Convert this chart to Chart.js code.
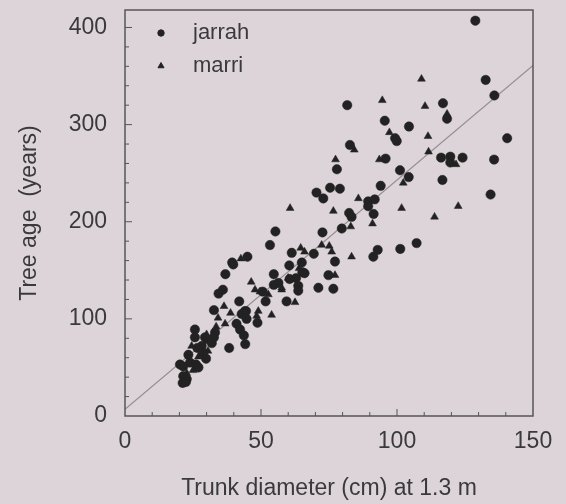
<!DOCTYPE html>
<html>
<head>
<meta charset="utf-8">
<script src="https://cdn.jsdelivr.net/npm/chart.js@4.4.1/dist/chart.umd.min.js"></script>
<style>
  html, body { margin: 0; padding: 0; background: #ddd4d9; }
  #wrap { width: 566px; height: 504px; }
</style>
</head>
<body>
<div id="wrap"><canvas id="chart" width="566" height="504"></canvas></div>
<script>
// jarrah (circles): trunk diameter (cm) and age (years)
const jarrahDiam = [128.8, 132.6, 135.8, 81.7, 116.9, 118.4, 95.5, 104.4, 99.3, 99.9, 82.7, 140.5, 95.8, 116.2, 119.6, 119.6, 124.1, 135.7, 101.1, 104.3,
  116.7, 94, 79, 134.4, 89.4, 89.4, 91.8, 82.4, 83.3, 91.4, 79.7, 92.9, 91.3, 101.2, 107.2, 72.9, 70.4, 75.4, 77.9, 72.6,
  61.3, 69.4, 77.2, 65, 60.4, 66, 62.9, 63.7, 71.1, 76.6, 74.8, 59.4, 55.3, 53.3, 54.7, 60.5, 54.7, 56.4, 63.7, 42,
  51.7, 50.6, 44.1, 42.9, 39.8, 45, 39.4, 36.9, 34.4, 36, 32.7, 44.5, 44.7, 41, 42.3, 48.7, 43.7, 44.2, 38.3, 33.1,
  32.7, 31.9, 25.7, 25.7, 29.4, 28.2, 26.6, 28.8, 29.8, 23.3, 20.2, 21.4, 23.9, 26.1, 27, 21.4, 22.7, 21.2, 22.4, 65.2];
const jarrahAge = [407, 346, 330, 320, 322, 306, 304, 298, 286, 283, 279, 286, 265, 266, 267, 261, 266, 264, 253, 246,
  243, 237, 234, 228, 221, 216, 223, 209, 205, 208, 193, 171, 164, 172, 178, 224, 230, 235, 254, 189,
  168, 167, 159, 158, 155, 147, 142, 134, 132, 131, 145, 118, 190, 176, 146, 141, 135, 137, 129, 118,
  118, 128, 108, 105, 156, 164, 158, 146, 126, 130, 109, 108, 100, 95, 89, 96, 83, 74, 70, 86,
  81, 75, 89, 81, 81, 72, 70, 65, 59, 63, 53, 51, 55, 53, 50, 41, 38, 34, 35, 148];

// marri (triangles)
const marriDiam = [109, 94.6, 110.3, 118.4, 97.2, 111.4, 84.3, 93.5, 111.6, 121.7, 102.3, 85.8, 101.7, 122.5, 113.8, 83, 91, 83.3, 77.4, 60.7,
  76.6, 64.6, 72.3, 75.1, 76, 66, 77.2, 60, 57.6, 62.5, 46.4, 57.6, 47.8, 49.6, 52.7, 53.9, 49, 42.6, 36.4, 38.8,
  34.2, 36.8, 48.4, 33.5, 30, 30, 22.7, 25, 27, 30.5, 24.5, 62, 64];
const marriAge = [347, 325, 319, 311, 292, 288, 274, 264, 272, 259, 240, 224, 214, 216, 205, 195, 198, 164, 264, 214,
  211, 173, 176, 175, 169, 169, 145, 142, 130, 117, 138, 132, 130, 128, 125, 104, 108, 162, 113, 106,
  101, 95, 103, 92, 84, 77, 44, 47, 61, 67, 72, 141, 152];

// fitted line end points
const fitDiam = [0, 150];
const fitAge = [7, 361];

const xTicks = [0, 50, 100, 150];
const yTicks = [0, 100, 200, 300, 400];
const seriesNames = ['jarrah', 'marri'];

const toPoints = (xs, ys) => xs.map((x, i) => ({ x: x, y: ys[i] }));

const ink = '#222';
const textColor = '#3a3a3a';
const fontFamily = '"Liberation Sans", Arial, sans-serif';

// background, frame box, inward ticks and legend
const decorPlugin = {
  id: 'decor',
  beforeDraw(chart) {
    const ctx = chart.ctx;
    ctx.save();
    ctx.fillStyle = '#ddd4d9';
    ctx.fillRect(0, 0, chart.width, chart.height);
    ctx.restore();
  },
  afterDraw(chart) {
    const ctx = chart.ctx;
    const a = chart.chartArea;
    const xs = chart.scales.x, ys = chart.scales.y;
    ctx.save();
    ctx.strokeStyle = '#555';
    ctx.lineWidth = 1.5;
    ctx.strokeRect(a.left, a.top, a.right - a.left, a.bottom - a.top);
    ctx.lineWidth = 1;
    ctx.beginPath();
    for (let v = 10; v < 150; v += 10) {
      const px = xs.getPixelForValue(v);
      const len = v % 50 === 0 ? 7 : 4;
      ctx.moveTo(px, a.bottom);
      ctx.lineTo(px, a.bottom - len);
    }
    for (let v = 20; v <= 400; v += 20) {
      const py = ys.getPixelForValue(v);
      const len = v % 100 === 0 ? 7 : 4;
      ctx.moveTo(a.left, py);
      ctx.lineTo(a.left + len, py);
    }
    ctx.stroke();

    // legend inside the plot
    const styles = ['circle', 'triangle'];
    const radii = [3.2, 3.5];
    ctx.fillStyle = ink;
    ctx.strokeStyle = ink;
    seriesNames.forEach((name, i) => {
      const y = a.top + 23 + i * 33;
      Chart.helpers.drawPoint(ctx, { pointStyle: styles[i], radius: radii[i], rotation: 0, borderWidth: 1 }, a.left + 36, y);
      ctx.fillStyle = textColor;
      ctx.font = '22px ' + fontFamily;
      ctx.textBaseline = 'middle';
      ctx.textAlign = 'left';
      ctx.fillText(name, a.left + 68, y);
      ctx.fillStyle = ink;
    });
    ctx.restore();
  }
};

new Chart(document.getElementById('chart').getContext('2d'), {
  type: 'scatter',
  data: {
    datasets: [{
      label: seriesNames[0],
      data: toPoints(jarrahDiam, jarrahAge),
      pointStyle: 'circle',
      pointRadius: 4.7,
      backgroundColor: ink,
      borderColor: ink,
      borderWidth: 0.5
    }, {
      label: seriesNames[1],
      data: toPoints(marriDiam, marriAge),
      pointStyle: 'triangle',
      pointRadius: 4.5,
      backgroundColor: ink,
      borderColor: ink,
      borderWidth: 0.5
    }, {
      type: 'line',
      label: 'fit',
      data: toPoints(fitDiam, fitAge),
      borderColor: '#948e92',
      borderWidth: 1.2,
      pointRadius: 0,
      fill: false
    }]
  },
  options: {
    responsive: false,
    animation: false,
    devicePixelRatio: 1,
    layout: { padding: { top: 10, right: 33, left: 0, bottom: 0 } },
    plugins: {
      legend: { display: false },
      tooltip: { enabled: false }
    },
    scales: {
      x: {
        type: 'linear',
        min: 0,
        max: 150,
        afterBuildTicks: s => { s.ticks = xTicks.map(v => ({ value: v })); },
        afterFit: s => { s.height = 88; },
        grid: { display: false, drawTicks: false },
        border: { display: false },
        ticks: { color: textColor, font: { family: fontFamily, size: 23 }, padding: 12, maxRotation: 0 },
        title: {
          display: true,
          text: 'Trunk diameter (cm) at 1.3 m',
          color: textColor,
          font: { family: fontFamily, size: 23 },
          padding: { top: 0, bottom: 2 }
        }
      },
      y: {
        type: 'linear',
        min: 0,
        max: 418,
        afterBuildTicks: s => { s.ticks = yTicks.map(v => ({ value: v })); },
        afterFit: s => { s.width = 125; s.paddingTop = 0; s.paddingBottom = 0; },
        grid: { display: false, drawTicks: false },
        border: { display: false },
        ticks: { color: textColor, font: { family: fontFamily, size: 23 }, padding: 18 },
        title: {
          display: true,
          text: 'Tree age  (years)',
          color: textColor,
          font: { family: fontFamily, size: 23 },
          padding: { top: 16, bottom: 0 }
        }
      }
    }
  },
  plugins: [decorPlugin]
});
</script>
</body>
</html>
